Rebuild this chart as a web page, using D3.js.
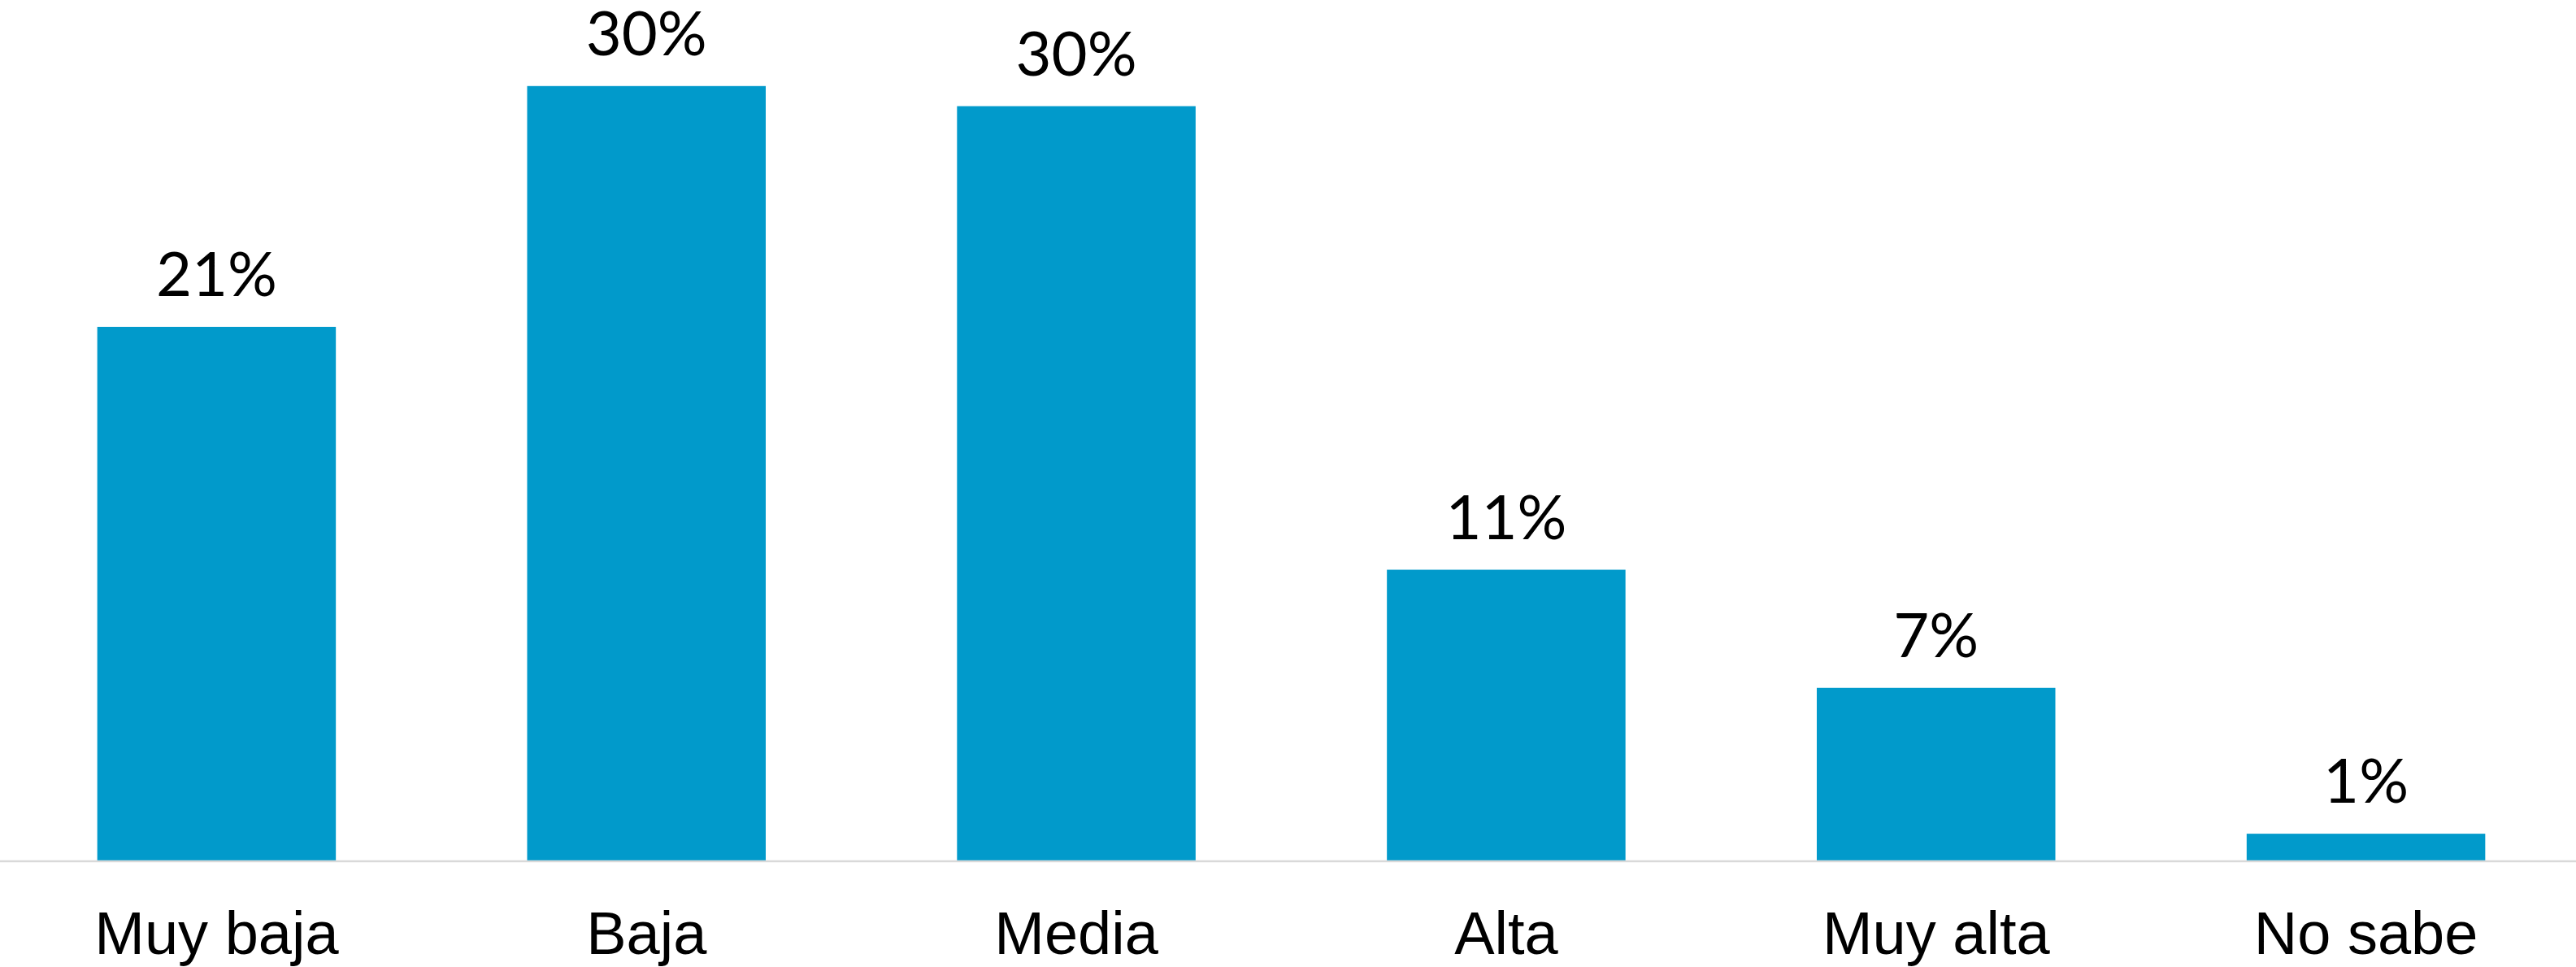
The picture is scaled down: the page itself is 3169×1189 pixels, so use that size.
<!DOCTYPE html>
<html>
<head>
<meta charset="utf-8">
<script src="https://cdn.jsdelivr.net/npm/d3@7"></script>
<style>
  html, body { margin: 0; padding: 0; background: #ffffff; }
  svg { display: block; }
</style>
</head>
<body>
<svg id="chart" width="3169" height="1189"></svg>
<script>
const categories = ["Muy baja", "Baja", "Media", "Alta", "Muy alta", "No sabe"];
const values = [20.96, 30.42, 29.63, 11.42, 6.78, 1.05];

const W = 3169, H = 1189;
const baseline = 1058;

const svg = d3.select("#chart");

const x = d3.scaleBand()
  .domain(categories)
  .range([2, 3175])
  .paddingInner(0.445)
  .paddingOuter(0.2225);

const y = d3.scaleLinear()
  .domain([0, 33.8])
  .range([baseline, 0]);

// bars
svg.append("g")
  .selectAll("rect")
  .data(categories)
  .join("rect")
  .attr("x", d => x(d))
  .attr("y", (d, i) => y(values[i]))
  .attr("width", x.bandwidth())
  .attr("height", (d, i) => y(0) - y(values[i]))
  .attr("fill", "#019ACB");

// baseline axis
const xAxis = d3.axisBottom(x).tickSize(0).tickPadding(0);
const gx = svg.append("g")
  .attr("transform", `translate(0,${baseline + 1})`)
  .call(xAxis);
gx.select(".domain")
  .attr("d", `M0,0H${W}`)
  .attr("stroke", "#d9d9d9")
  .attr("stroke-width", 2.5);
gx.selectAll(".tick text")
  .attr("y", 114)
  .attr("dy", 0)
  .attr("fill", "#000")
  .style("font-family", "'Liberation Sans', Arial, sans-serif")
  .style("font-size", "74px");

// value labels
svg.append("g")
  .selectAll("text")
  .data(categories)
  .join("text")
  .attr("x", d => x(d) + x.bandwidth() / 2)
  .attr("y", (d, i) => y(values[i]) - 38)
  .attr("text-anchor", "middle")
  .attr("fill", "#000")
  .style("font-family", "Lato, 'Noto Sans', sans-serif")
  .style("font-size", "76px")
  .text((d, i) => Math.round(values[i]) + "%");
</script>
</body>
</html>
